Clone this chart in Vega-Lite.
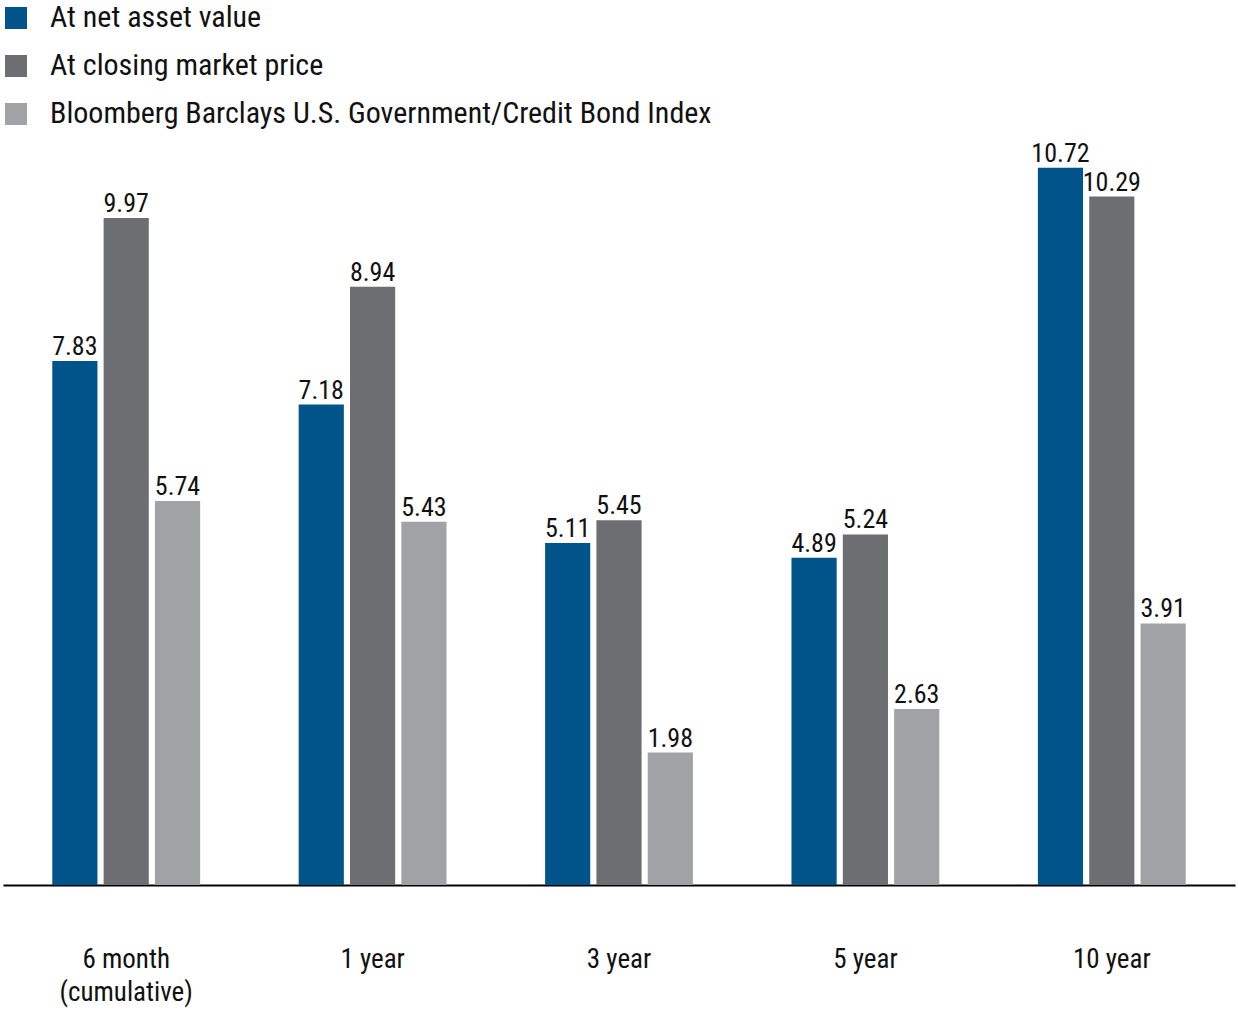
{
  "$schema": "https://vega.github.io/schema/vega-lite/v6.json",
  "autosize": {"type": "none"},
  "width": 1232,
  "height": 736,
  "padding": {"left": 3, "top": 149, "right": 3, "bottom": 125},
  "config": {
    "view": {"stroke": null},
    "font": "Roboto Condensed, Liberation Sans Narrow, Roboto, sans-serif"
  },
  "data": {
    "values": [
      {"period": "6 month", "series": "At net asset value", "value": 7.83},
      {"period": "6 month", "series": "At closing market price", "value": 9.97},
      {"period": "6 month", "series": "Bloomberg Barclays U.S. Government/Credit Bond Index", "value": 5.74},
      {"period": "1 year", "series": "At net asset value", "value": 7.18},
      {"period": "1 year", "series": "At closing market price", "value": 8.94},
      {"period": "1 year", "series": "Bloomberg Barclays U.S. Government/Credit Bond Index", "value": 5.43},
      {"period": "3 year", "series": "At net asset value", "value": 5.11},
      {"period": "3 year", "series": "At closing market price", "value": 5.45},
      {"period": "3 year", "series": "Bloomberg Barclays U.S. Government/Credit Bond Index", "value": 1.98},
      {"period": "5 year", "series": "At net asset value", "value": 4.89},
      {"period": "5 year", "series": "At closing market price", "value": 5.24},
      {"period": "5 year", "series": "Bloomberg Barclays U.S. Government/Credit Bond Index", "value": 2.63},
      {"period": "10 year", "series": "At net asset value", "value": 10.72},
      {"period": "10 year", "series": "At closing market price", "value": 10.29},
      {"period": "10 year", "series": "Bloomberg Barclays U.S. Government/Credit Bond Index", "value": 3.91}
    ]
  },
  "encoding": {
    "x": {
      "field": "period",
      "type": "nominal",
      "sort": null,
      "scale": {"paddingInner": 0.4, "paddingOuter": 0.2},
      "axis": {
        "title": null,
        "labelAngle": 0,
        "ticks": false,
        "domainColor": "#000000",
        "domainWidth": 2,
        "labelFontSize": 27,
        "labelColor": "#111111",
        "labelBaseline": "top",
        "labelPadding": 61,
        "labelLineHeight": 33,
        "labelExpr": "datum.value == '6 month' ? ['6 month', '(cumulative)'] : datum.value"
      }
    },
    "xOffset": {
      "field": "series",
      "type": "nominal",
      "sort": null,
      "scale": {"paddingInner": 0.12, "paddingOuter": 0}
    },
    "y": {
      "field": "value",
      "type": "quantitative",
      "scale": {"domain": [0, 11], "nice": false},
      "axis": null
    }
  },
  "layer": [
    {
      "mark": {"type": "bar"},
      "encoding": {
        "color": {
          "field": "series",
          "type": "nominal",
          "sort": null,
          "scale": {
            "domain": ["At net asset value", "At closing market price", "Bloomberg Barclays U.S. Government/Credit Bond Index"],
            "range": ["#00548A", "#6D6E71", "#A1A2A5"]
          },
          "legend": {
            "title": null,
            "orient": "none",
            "legendX": -2,
            "legendY": -146,
            "padding": 0,
            "direction": "vertical",
            "symbolType": "square",
            "symbolSize": 484,
            "symbolStrokeWidth": 0,
            "labelFontSize": 30,
            "labelColor": "#111111",
            "labelOffset": 19,
            "labelLimit": 1000,
            "rowPadding": 18
          }
        }
      }
    },
    {
      "mark": {"type": "text", "baseline": "bottom", "dy": -1, "fontSize": 26, "color": "#111111"},
      "encoding": {
        "text": {"field": "value", "type": "quantitative", "format": ".2f"}
      }
    }
  ]
}
